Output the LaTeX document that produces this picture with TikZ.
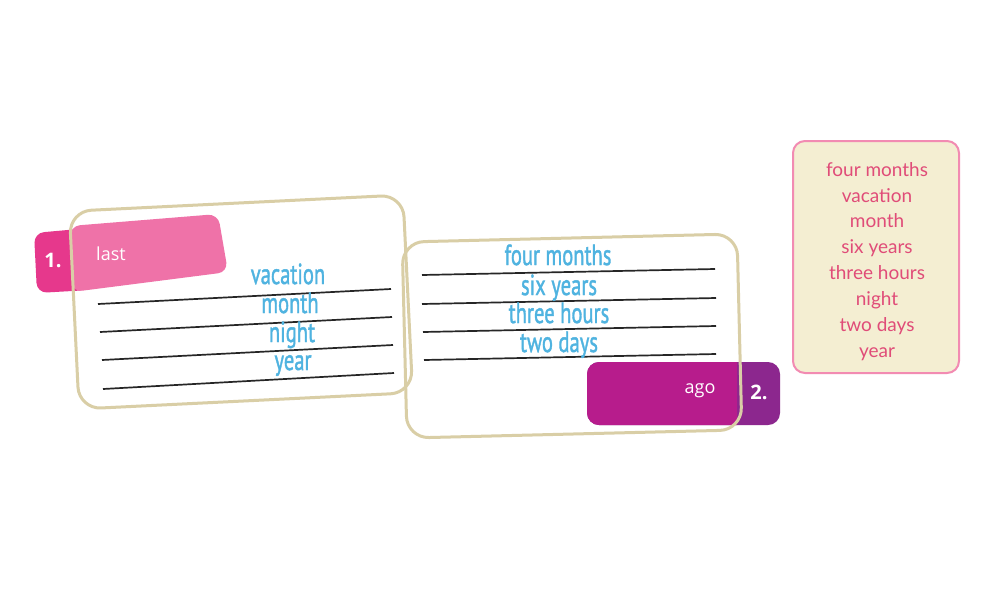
\documentclass[tikz,border=0pt]{standalone}
\usepackage{fontspec}
\setmainfont{PT Sans}
\newfontfamily\wordfont[FakeBold=1.6]{PT Sans}
\newfontfamily\tabfont{Open Sans}
\newfontfamily\handfont{Lato}
\definecolor{cardtan}{HTML}{D9CEA6}
\definecolor{pinklight}{HTML}{EF72A8}
\definecolor{pinkdark}{HTML}{E6388C}
\definecolor{magentatab}{HTML}{B71C8C}
\definecolor{purpletab}{HTML}{8C278E}
\definecolor{wordblue}{HTML}{4FB3E0}
\definecolor{boxcream}{HTML}{F4EED2}
\definecolor{boxpink}{HTML}{F28BB2}
\definecolor{handred}{HTML}{E04C78}
\tikzset{
  card/.style={draw=cardtan, line width=3pt, rounded corners=22pt, inner sep=0pt},
  ruleline/.style={black!85, line width=1.7pt},
  word/.style={text=wordblue, font=\wordfont\fontsize{29}{29}\selectfont, inner sep=0pt, anchor=base},
  tabtext/.style={text=white, font=\tabfont\fontsize{18}{18}\selectfont, inner sep=0pt},
  tabnum/.style={text=white, font=\tabfont\bfseries\fontsize{20}{20}\selectfont, inner sep=0pt},
  hand/.style={text=handred, font=\handfont\fontsize{19}{19}\selectfont, inner sep=0pt, anchor=base}
}
\newcommand{\cond}[1]{\scalebox{0.71}[1]{#1}}
\begin{document}
\begin{tikzpicture}[x=1pt,y=-1pt]
\useasboundingbox[fill=white] (0,0) rectangle (1000,600);

% ---- tab 1 ----
\fill[pinkdark, rounded corners=10pt] (34,233) -- (90,228) -- (90,290) -- (37,293) -- cycle;
\fill[pinklight, rounded corners=10pt] (70,226) -- (218,214) -- (228,272) -- (72,292) -- cycle;
\node[tabnum] (n1) at (53,260) {1.};
\node[tabtext] (last) at (111,254) {last};

% ---- left card ----
\node[card, minimum width=334pt, minimum height=198pt, rotate=2.8] (cardA) at (241,302) {};
\draw[ruleline] (98,304) -- (391,289);
\draw[ruleline] (100,332) -- (392,317);
\draw[ruleline] (102,360) -- (393,345);
\draw[ruleline] (103,389) -- (394,373);
\node[word] (w1) at (288,284) {\cond{vacation}};
\node[word] (w2) at (290,313) {\cond{month}};
\node[word] (w3) at (292,342) {\cond{night}};
\node[word] (w4) at (293,370) {\cond{year}};

% ---- tab 2 ----
\fill[purpletab, rounded corners=12pt] (587,362) rectangle (780,425);
\begin{scope}
  \clip (560,340) rectangle (737,440);
  \fill[magentatab, rounded corners=12pt] (587,362) rectangle (760,425);
\end{scope}
\node[tabtext] (ago) at (700,391) {ago};
\node[tabnum] (n2) at (759,392) {2.};

% ---- middle card ----
\node[card, minimum width=335pt, minimum height=196pt, rotate=1.4] (cardB) at (572,336) {};
\draw[ruleline] (422,275) -- (715,269);
\draw[ruleline] (422,304) -- (716,298);
\draw[ruleline] (423,332) -- (716,326);
\draw[ruleline] (424,360) -- (716,354);
\node[word] (m1) at (558,265) {\cond{four months}};
\node[word] (m2) at (559,295) {\cond{six years}};
\node[word] (m3) at (559,323) {\cond{three hours}};
\node[word] (m4) at (559,352) {\cond{two days}};

% ---- word box ----
\node[draw=boxpink, fill=boxcream, line width=2pt, rounded corners=12pt,
      minimum width=166pt, minimum height=232pt, inner sep=0pt] (box) at (876,257) {};
\node[hand] (b1) at (877,176) {four months};
\node[hand] (b2) at (877,202) {vacation};
\node[hand] (b3) at (877,227) {month};
\node[hand] (b4) at (877,253) {six years};
\node[hand] (b5) at (877,279) {three hours};
\node[hand] (b6) at (877,305) {night};
\node[hand] (b7) at (877,331) {two days};
\node[hand] (b8) at (877,357) {year};
\end{tikzpicture}
\end{document}
